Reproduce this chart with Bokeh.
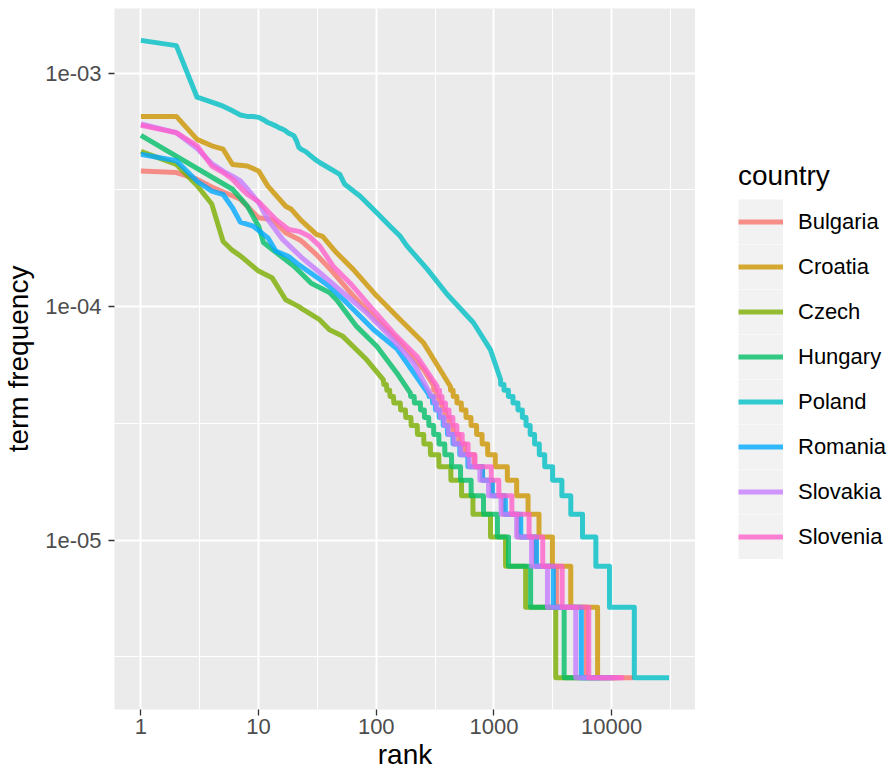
import math

from bokeh.embed import file_html
from bokeh.layouts import row
from bokeh.models import FixedTicker, Legend, LegendItem, Range1d
from bokeh.plotting import figure
from bokeh.resources import INLINE

# ---- data -------------------------------------------------------------
countries = ["Bulgaria", "Croatia", "Czech", "Hungary",
             "Poland", "Romania", "Slovakia", "Slovenia"]
colors = ["#F8766D", "#CD9600", "#7CAE00", "#00BE67",
          "#00BFC4", "#00A9FF", "#C77CFF", "#FF61CC"]

# term frequency of a word seen exactly once
single_freq = 2.58e-6

# upper part of each curve: rank / term frequency
bulgaria_rank = [1, 2, 3, 4, 7, 8, 10, 13, 17, 22, 24, 31, 42, 64, 101, 160, 253, 307]
bulgaria_freq = [3.81e-4, 3.75e-4, 3.51e-4, 3.25e-4, 2.88e-4, 2.69e-4, 2.40e-4, 2.36e-4, 2.07e-4,
                 1.94e-4, 1.88e-4, 1.67e-4, 1.42e-4, 1.11e-4, 8.79e-5, 6.98e-5, 5.37e-5, 4.6e-5]
croatia_rank = [1, 2, 3, 4, 5, 6, 8, 10, 12, 17, 19, 23, 31, 35, 46, 64, 101, 160, 253, 427]
croatia_freq = [6.52e-4, 6.52e-4, 5.20e-4, 4.88e-4, 4.72e-4, 4.06e-4, 4.00e-4, 3.81e-4, 3.28e-4,
                2.69e-4, 2.61e-4, 2.34e-4, 2.04e-4, 2.00e-4, 1.70e-4, 1.44e-4, 1.11e-4, 8.79e-5,
                6.98e-5, 4.55e-5]
czech_rank = [1, 2, 3, 4, 5, 6, 7, 10, 13, 17, 22, 24, 33, 40, 52, 83, 115]
czech_freq = [4.62e-4, 4.06e-4, 3.30e-4, 2.75e-4, 1.90e-4, 1.74e-4, 1.65e-4, 1.42e-4, 1.33e-4,
              1.07e-4, 1.00e-4, 9.7e-5, 8.79e-5, 7.96e-5, 7.46e-5, 5.92e-5, 4.86e-5]
hungary_rank = [1, 6, 8, 10, 11, 13, 20, 22, 28, 40, 46, 68, 101, 150, 195]
hungary_freq = [5.41e-4, 3.18e-4, 2.70e-4, 2.21e-4, 1.88e-4, 1.76e-4, 1.49e-4, 1.42e-4, 1.26e-4,
                1.15e-4, 1.07e-4, 8.23e-5, 6.76e-5, 5.19e-5, 4.26e-5]
poland_rank = [1, 2, 3, 4, 5, 6, 7, 8, 9, 10, 11, 12, 13, 14, 15, 16, 17, 18, 19, 20, 21, 22,
               23, 25, 30, 33, 49, 54, 73, 101, 131, 160, 182, 270, 400, 670, 935, 1140]
poland_freq = [1.38e-3, 1.31e-3, 7.88e-4, 7.51e-4, 7.21e-4, 6.89e-4, 6.61e-4, 6.52e-4, 6.52e-4,
               6.46e-4, 6.31e-4, 6.14e-4, 6.04e-4, 5.94e-4, 5.82e-4, 5.75e-4, 5.65e-4, 5.53e-4,
               5.46e-4, 5.38e-4, 5.12e-4, 4.80e-4, 4.72e-4, 4.62e-4, 4.28e-4, 4.14e-4, 3.68e-4,
               3.34e-4, 2.97e-4, 2.52e-4, 2.21e-4, 2.00e-4, 1.82e-4, 1.45e-4, 1.13e-4, 8.53e-5,
               6.53e-5, 4.86e-5]
romania_rank = [1, 2, 3, 4, 5, 6, 7, 9, 12, 14, 18, 22, 33, 40, 56, 95, 150, 280]
romania_freq = [4.49e-4, 4.21e-4, 3.44e-4, 3.12e-4, 3.02e-4, 2.65e-4, 2.30e-4, 2.21e-4, 1.97e-4,
                1.73e-4, 1.64e-4, 1.51e-4, 1.31e-4, 1.22e-4, 1.04e-4, 7.96e-5, 6.6e-5, 4.2e-5]
slovakia_rank = [1, 2, 3, 4, 5, 6, 7, 8, 10, 12, 16, 23, 33, 49, 83, 131, 208, 290]
slovakia_freq = [6.05e-4, 5.55e-4, 4.75e-4, 4.10e-4, 3.80e-4, 3.62e-4, 3.45e-4, 3.20e-4, 2.79e-4,
                 2.36e-4, 1.94e-4, 1.63e-4, 1.40e-4, 1.18e-4, 9.4e-5, 7.46e-5, 5.73e-5, 4.2e-5]
slovenia_rank = [1, 2, 3, 4, 5, 6, 7, 8, 10, 14, 18, 22, 27, 33, 43, 60, 89, 140, 222, 329]
slovenia_freq = [5.98e-4, 5.56e-4, 4.88e-4, 4.00e-4, 3.75e-4, 3.51e-4, 3.23e-4, 3.03e-4, 2.81e-4,
                 2.36e-4, 2.14e-4, 2.10e-4, 2.00e-4, 1.82e-4, 1.49e-4, 1.26e-4, 1.00e-4, 7.71e-5,
                 6.12e-5, 4.55e-5]

# lower part: last rank holding each occurrence count, counting down to 1
bulgaria_tail_last = [322, 340, 362, 387, 416, 450, 502, 565, 680,
                      800, 960, 1200, 1600, 2250, 3400, 6100, 15200]
croatia_tail_last = [450, 484, 528, 578, 638, 712, 793, 884, 1026,
                     1300, 1560, 1950, 2415, 3140, 4500, 7600, 11000]
czech_tail_last = [122, 130, 140, 160, 177, 197, 223, 253, 288, 340,
                   430, 530, 663, 935, 1255, 1860, 3350, 6670]
hungary_tail_last = [210, 237, 256, 279, 307, 340, 382, 436,
                     520, 640, 815, 1070, 1330, 2050, 3950, 8100]
poland_tail_last = [1217, 1327, 1452, 1600, 1743, 1875, 2032, 2215, 2430, 2700,
                    3150, 3780, 4500, 5660, 7350, 9600, 15600, 30800]
romania_tail_last = [300, 318, 342, 370, 402, 448, 512, 600,
                     800, 970, 1250, 1690, 2300, 3200, 5530, 10200]
slovakia_tail_last = [310, 325, 350, 378, 410, 457, 522, 616,
                      760, 900, 1150, 1560, 2090, 2850, 4960, 11500]
slovenia_tail_last = [345, 362, 387, 415, 448, 484, 537, 603, 690,
                      950, 1100, 1420, 1990, 2600, 3800, 6400, 12700]

x_ticks = [1, 10, 100, 1000, 10000]
x_tick_labels = ["1", "10", "100", "1000", "10000"]
y_ticks = [1e-05, 1e-04, 1e-03]
y_tick_labels = ["1e-05", "1e-04", "1e-03"]

heads = [(bulgaria_rank, bulgaria_freq, bulgaria_tail_last),
         (croatia_rank, croatia_freq, croatia_tail_last),
         (czech_rank, czech_freq, czech_tail_last),
         (hungary_rank, hungary_freq, hungary_tail_last),
         (poland_rank, poland_freq, poland_tail_last),
         (romania_rank, romania_freq, romania_tail_last),
         (slovakia_rank, slovakia_freq, slovakia_tail_last),
         (slovenia_rank, slovenia_freq, slovenia_tail_last)]


def curve(ranks, freqs, tail_last):
    """Join the upper curve with the stepped tail of equal counts."""
    xs, ys = list(ranks), list(freqs)
    prev = ranks[-1]
    counts = range(len(tail_last), 0, -1)
    for count, last in zip(counts, tail_last):
        f = count * single_freq
        xs += [prev + 1, last]
        ys += [f, f]
        prev = last
    return xs, ys


curves = [curve(*h) for h in heads]

# log ranges padded by 5% on each side
all_x = [v for xs, _ in curves for v in xs]
all_y = [v for _, ys in curves for v in ys]


def padded(lo, hi):
    a, b = math.log10(lo), math.log10(hi)
    d = (b - a) * 0.05
    return 10 ** (a - d), 10 ** (b + d)


FONT = "Liberation Sans"
HEIGHT = 775

# ---- main panel -------------------------------------------------------
p = figure(width=695, height=HEIGHT, x_axis_type="log", y_axis_type="log",
           x_range=Range1d(*padded(min(all_x), max(all_x))),
           y_range=Range1d(*padded(min(all_y), max(all_y))),
           output_backend="svg", toolbar_location=None,
           min_border_left=114, min_border_right=0,
           min_border_top=8, min_border_bottom=66,
           x_axis_label="rank", y_axis_label="term frequency")

p.background_fill_color = "#EBEBEB"
p.border_fill_color = "white"
p.outline_line_color = None

# ggplot style breaks: decades, with minor lines halfway in log space
x_ticker = FixedTicker(ticks=x_ticks,
                       minor_ticks=[t * math.sqrt(10) for t in x_ticks])
y_ticker = FixedTicker(ticks=y_ticks,
                       minor_ticks=[t * math.sqrt(10) for t in [1e-06] + y_ticks])
p.xaxis.ticker = x_ticker
p.xgrid.ticker = x_ticker
p.yaxis.ticker = y_ticker
p.ygrid.ticker = y_ticker
p.xaxis.major_label_overrides = dict(zip(x_ticks, x_tick_labels))
p.yaxis.major_label_overrides = dict(zip(y_ticks, y_tick_labels))

for g in (p.xgrid, p.ygrid):
    g.grid_line_color = "white"
    g.grid_line_width = 2
    g.minor_grid_line_color = "white"
    g.minor_grid_line_width = 1.1

for ax in (p.xaxis, p.yaxis):
    ax.axis_line_color = None
    ax.minor_tick_line_color = None
    ax.major_tick_line_color = "#333333"
    ax.major_tick_line_width = 1.3
    ax.major_tick_in = 0
    ax.major_tick_out = 6
    ax.major_label_text_font = FONT
    ax.major_label_text_font_size = "22px"
    ax.major_label_text_color = "#4D4D4D"
    ax.axis_label_text_font = FONT
    ax.axis_label_text_font_size = "28px"
    ax.axis_label_text_font_style = "normal"
    ax.axis_label_text_color = "black"

p.xaxis.major_label_standoff = 3
p.xaxis.axis_label_standoff = 2
p.yaxis.major_label_standoff = 7
p.yaxis.axis_label_standoff = 8

for color, (xs, ys) in zip(colors, curves):
    p.line(xs, ys, line_color=color, line_width=5, line_alpha=0.8,
           line_join="round")

# ---- legend strip -----------------------------------------------------
lg = figure(width=198, height=HEIGHT, x_range=(0, 1), y_range=(0, 1),
            x_axis_location=None, y_axis_location=None,
            output_backend="svg", toolbar_location=None, min_border=0)
lg.grid.visible = False
lg.outline_line_color = None
lg.background_fill_color = "white"
lg.border_fill_color = "white"

items = []
for name, color, (xs, ys) in zip(countries, colors, curves):
    # hidden copies of each curve: they only paint the legend keys
    bg = lg.line(xs, ys, line_color="#F2F2F2", line_width=45, visible=False)
    r = lg.line(xs, ys, line_color=color, line_width=5, line_alpha=0.8,
                visible=False)
    items.append(LegendItem(label=name, renderers=[bg, r]))

legend = Legend(items=items, title="country", location=(43, 150))
legend.title_text_font = FONT
legend.title_text_font_size = "28px"
legend.title_text_font_style = "normal"
legend.title_text_color = "black"
legend.title_standoff = 7
legend.label_text_font = FONT
legend.label_text_font_size = "22px"
legend.label_text_color = "black"
legend.glyph_width = 45
legend.glyph_height = 45
legend.spacing = 0
legend.padding = 0
legend.margin = 0
legend.label_standoff = 15
legend.border_line_color = None
legend.background_fill_alpha = 0
lg.add_layout(legend)

layout = row(p, lg)
open("out.html", "w").write(file_html(layout, INLINE))
